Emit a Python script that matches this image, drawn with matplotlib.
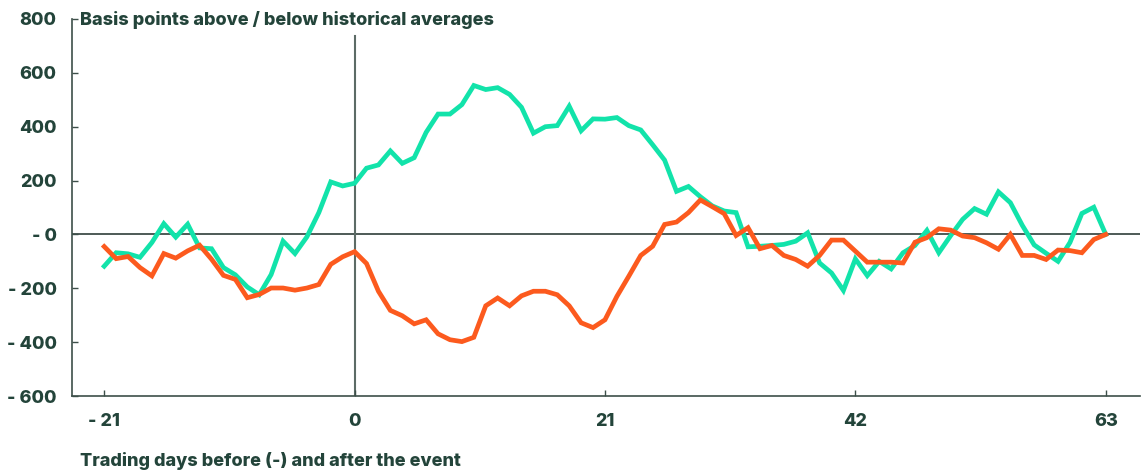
import numpy as np
import matplotlib.pyplot as plt

days = list(range(-21, 64))

green = [-118, -68, -72, -85, -30, 40, -10, 38, -50, -53,
         -123, -150, -195, -224, -149, -25, -71, -9, 81, 195,
         180, 190, 246, 258, 310, 264, 285, 379, 447, 447,
         482, 553, 538, 545, 520, 472, 376, 400, 404, 476,
         385, 429, 428, 434, 404, 388, 333, 276, 160, 178,
         140, 106, 87, 81, -46, -44, -41, -37, -25, 6,
         -106, -143, -208, -91, -153, -100, -128, -68, -41, 15,
         -68, -4, 56, 96, 75, 158, 118, 34, -39, -70,
         -100, -30, 78, 101, 0]

orange = [-45, -90, -82, -123, -154, -71, -88, -61, -40, -92,
          -152, -167, -235, -223, -199, -199, -207, -199, -186, -111,
          -83, -64, -108, -211, -282, -302, -332, -317, -369, -391,
          -398, -382, -265, -236, -265, -228, -211, -211, -224, -265,
          -328, -346, -317, -230, -155, -78, -44, 37, 46, 81,
          128, 103, 77, -4, 25, -53, -41, -78, -93, -118,
          -78, -21, -21, -62, -103, -103, -103, -106, -29, -12,
          21, 16, -6, -12, -31, -55, 0, -78, -78, -93,
          -58, -60, -68, -19, 0]

xticks = [-21, 0, 21, 42, 63]
xtick_labels = ['- 21', '0', '21', '42', '63']
yticks = [-600, -400, -200, 0, 200, 400, 600, 800]
ytick_labels = ['- 600', '- 400', '- 200', '- 0', '200', '400', '600', '800']

text_color = '#23443a'
green_color = '#12e3aa'
orange_color = '#fc5a1e'

plt.rcParams['font.family'] = ['Inter', 'DejaVu Sans']

fig = plt.figure(figsize=(11.45, 4.71), dpi=100)
ax = fig.add_axes([0.0629, 0.1592, 0.9330, 0.8005])

ax.axhline(0, color='#2f3e3a', linewidth=1.2, zorder=1)
ax.plot([0, 0], [-600, 735], color='#5c6b66', linewidth=1.5, zorder=1)

ax.plot(days, green, color=green_color, linewidth=3.4, zorder=3,
        solid_joinstyle='miter')
ax.plot(days, orange, color=orange_color, linewidth=3.4, zorder=4,
        solid_joinstyle='miter')

ax.set_xlim(-23.7, 65.9)
ax.set_ylim(-600, 800)

ax.set_xticks(xticks)
ax.set_xticklabels(xtick_labels)
ax.set_yticks(yticks)
ax.set_yticklabels(ytick_labels)

for side in ['top', 'right']:
    ax.spines[side].set_visible(False)
for side in ['left', 'bottom']:
    ax.spines[side].set_color('#3d4f49')
    ax.spines[side].set_linewidth(1.2)

ax.tick_params(axis='both', direction='in', length=4, width=1,
               color='#3d4f49', labelcolor=text_color, labelsize=13)
ax.tick_params(axis='x', pad=12)
ax.tick_params(axis='y', pad=11)
for lbl in ax.get_xticklabels() + ax.get_yticklabels():
    lbl.set_fontweight('heavy')

fig.text(80 / 1145, 1 - 20 / 471, 'Basis points above / below historical averages',
         fontsize=13, fontweight='heavy', color=text_color, va='center', ha='left')
fig.text(80 / 1145, 1 - 461 / 471, 'Trading days before (-) and after the event',
         fontsize=13, fontweight='heavy', color=text_color, va='center', ha='left')

fig.savefig('out.png', dpi=100)
